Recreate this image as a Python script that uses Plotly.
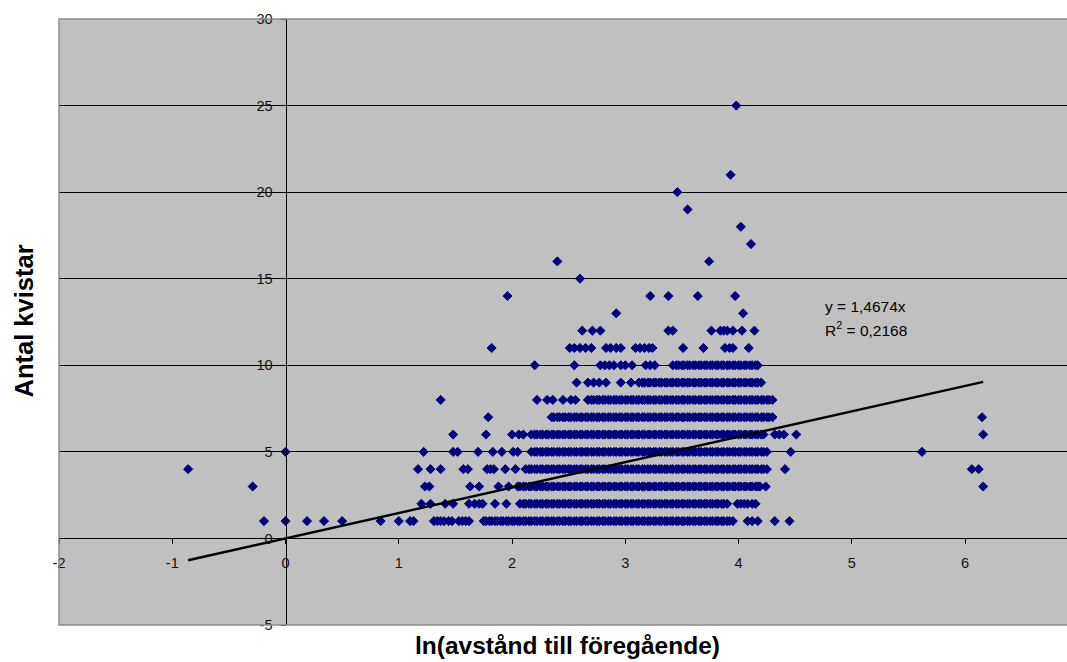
import plotly.graph_objects as go

# ---- data: x = ln(avstånd till föregående) for each observed knot count ----
knots = [1, 2, 3, 4, 5, 6, 7, 8, 9, 10, 11, 12, 13, 14, 15, 16, 17, 18, 19, 20, 21, 25]

x_k1 = [-0.19, 0.00, 0.19, 0.34, 0.50, 0.84, 1.00, 1.10, 1.13, 1.31, 1.34, 1.37, 1.40, 1.44, 1.47,
        1.53, 1.56, 1.59, 1.62, 1.75, 1.77,
        1.80, 1.82, 1.85, 1.87, 1.90, 1.92, 1.95, 1.97, 2.00, 2.02, 2.05, 2.07, 2.10, 2.12, 2.15, 2.17,
        2.20, 2.22, 2.25, 2.27, 2.30, 2.32, 2.35, 2.37, 2.40, 2.42, 2.45, 2.47, 2.50, 2.52, 2.55, 2.57,
        2.60, 2.62, 2.65, 2.67, 2.70, 2.72, 2.75, 2.77, 2.80, 2.82, 2.85, 2.87, 2.90, 2.92, 2.95, 2.97,
        3.00, 3.02, 3.05, 3.07, 3.10, 3.12, 3.15, 3.17, 3.20, 3.22, 3.25, 3.27, 3.30, 3.32, 3.35, 3.37,
        3.40, 3.42, 3.45, 3.47, 3.50, 3.52, 3.55, 3.57, 3.60, 3.62, 3.65, 3.67, 3.70, 3.72, 3.75, 3.77,
        3.80, 3.82, 3.85, 3.87, 3.90, 3.92, 3.95, 4.08, 4.12, 4.17, 4.32, 4.45]
x_k2 = [1.20, 1.28, 1.41, 1.48, 1.62, 1.67, 1.71, 1.74, 1.85, 1.95, 2.07,
        2.10, 2.12, 2.15, 2.17, 2.20, 2.22, 2.25, 2.27, 2.30, 2.32, 2.35, 2.37, 2.40, 2.42, 2.45, 2.47,
        2.50, 2.52, 2.55, 2.57, 2.60, 2.62, 2.65, 2.67, 2.70, 2.72, 2.75, 2.77, 2.80, 2.82, 2.85, 2.87,
        2.90, 2.92, 2.95, 2.97, 3.00, 3.02, 3.05, 3.07, 3.10, 3.12, 3.15, 3.17, 3.20, 3.22, 3.25, 3.27,
        3.30, 3.32, 3.35, 3.37, 3.40, 3.42, 3.45, 3.47, 3.50, 3.52, 3.55, 3.57, 3.60, 3.62, 3.65, 3.67,
        3.70, 3.72, 3.75, 3.77, 3.80, 3.82, 3.85, 3.87, 3.90, 3.99, 4.02, 4.05, 4.08, 4.12, 4.15]
x_k3 = [-0.29, 1.23, 1.27, 1.63, 1.71, 1.88, 1.97, 2.05, 2.07,
        2.10, 2.12, 2.15, 2.17, 2.20, 2.22, 2.25, 2.27, 2.30, 2.32, 2.35, 2.37, 2.40, 2.42, 2.45, 2.47,
        2.50, 2.52, 2.55, 2.57, 2.60, 2.62, 2.65, 2.67, 2.70, 2.72, 2.75, 2.77, 2.80, 2.82, 2.85, 2.87,
        2.90, 2.92, 2.95, 2.97, 3.00, 3.02, 3.05, 3.07, 3.10, 3.12, 3.15, 3.17, 3.20, 3.22, 3.25, 3.27,
        3.30, 3.32, 3.35, 3.37, 3.40, 3.42, 3.45, 3.47, 3.50, 3.52, 3.55, 3.57, 3.60, 3.62, 3.65, 3.67,
        3.70, 3.72, 3.75, 3.77, 3.80, 3.82, 3.85, 3.87, 3.90, 3.92, 3.95, 3.97, 4.00, 4.02, 4.05, 4.07,
        4.10, 4.12, 4.15, 4.17, 4.19, 4.24, 6.16]
x_k4 = [-0.86, 1.17, 1.28, 1.37, 1.57, 1.61, 1.78, 1.81, 1.84, 1.94, 2.03, 2.12, 2.15, 2.17,
        2.20, 2.22, 2.25, 2.27, 2.30, 2.32, 2.35, 2.37, 2.40, 2.42, 2.45, 2.47,
        2.50, 2.52, 2.55, 2.57, 2.60, 2.62, 2.65, 2.67, 2.70, 2.72, 2.75, 2.77, 2.80, 2.82, 2.85, 2.87,
        2.90, 2.92, 2.95, 2.97, 3.00, 3.02, 3.05, 3.07, 3.10, 3.12, 3.15, 3.17, 3.20, 3.22, 3.25, 3.27,
        3.30, 3.32, 3.35, 3.37, 3.40, 3.42, 3.45, 3.47, 3.50, 3.52, 3.55, 3.57, 3.60, 3.62, 3.65, 3.67,
        3.70, 3.72, 3.75, 3.77, 3.80, 3.82, 3.85, 3.87, 3.90, 3.92, 3.95, 3.97, 4.00, 4.02, 4.05, 4.07,
        4.10, 4.12, 4.15, 4.17, 4.20, 4.22, 4.25, 4.41, 6.06, 6.12]
x_k5 = [0.00, 1.22, 1.48, 1.52, 1.70, 1.83, 1.91, 2.01, 2.05, 2.17,
        2.20, 2.22, 2.25, 2.27, 2.30, 2.32, 2.35, 2.37, 2.40, 2.42, 2.45, 2.47,
        2.50, 2.52, 2.55, 2.57, 2.60, 2.62, 2.65, 2.67, 2.70, 2.72, 2.75, 2.77, 2.80, 2.82, 2.85, 2.87,
        2.90, 2.92, 2.95, 2.97, 3.00, 3.02, 3.05, 3.07, 3.10, 3.12, 3.15, 3.17, 3.20, 3.22, 3.25, 3.27,
        3.30, 3.32, 3.35, 3.37, 3.40, 3.42, 3.45, 3.47, 3.50, 3.52, 3.55, 3.57, 3.60, 3.62, 3.65, 3.67,
        3.70, 3.72, 3.75, 3.77, 3.80, 3.82, 3.85, 3.87, 3.90, 3.92, 3.95, 3.97, 4.00, 4.02, 4.05, 4.07,
        4.10, 4.12, 4.15, 4.17, 4.20, 4.22, 4.25, 4.46, 5.62]
x_k6 = [1.48, 1.77, 2.00, 2.06, 2.10, 2.17,
        2.20, 2.22, 2.25, 2.27, 2.30, 2.32, 2.35, 2.37, 2.40, 2.42, 2.45, 2.47,
        2.50, 2.52, 2.55, 2.57, 2.60, 2.62, 2.65, 2.67, 2.70, 2.72, 2.75, 2.77, 2.80, 2.82, 2.85, 2.87,
        2.90, 2.92, 2.95, 2.97, 3.00, 3.02, 3.05, 3.07, 3.10, 3.12, 3.15, 3.17, 3.20, 3.22, 3.25, 3.27,
        3.30, 3.32, 3.35, 3.37, 3.40, 3.42, 3.45, 3.47, 3.50, 3.52, 3.55, 3.57, 3.60, 3.62, 3.65, 3.67,
        3.70, 3.72, 3.75, 3.77, 3.80, 3.82, 3.85, 3.87, 3.90, 3.92, 3.95, 3.97, 4.00, 4.02, 4.05, 4.07,
        4.10, 4.12, 4.15, 4.17, 4.20, 4.22, 4.32, 4.36, 4.40, 4.51, 6.16]
x_k7 = [1.79, 2.35, 2.37, 2.40, 2.42, 2.45, 2.47,
        2.50, 2.52, 2.55, 2.57, 2.60, 2.62, 2.65, 2.67, 2.70, 2.72, 2.75, 2.77, 2.80, 2.82, 2.85, 2.87,
        2.90, 2.92, 2.95, 2.97, 3.00, 3.02, 3.05, 3.07, 3.10, 3.12, 3.15, 3.17, 3.20, 3.22, 3.25, 3.27,
        3.30, 3.32, 3.35, 3.37, 3.40, 3.42, 3.45, 3.47, 3.50, 3.52, 3.55, 3.57, 3.60, 3.62, 3.65, 3.67,
        3.70, 3.72, 3.75, 3.77, 3.80, 3.82, 3.85, 3.87, 3.90, 3.92, 3.95, 3.97, 4.00, 4.02, 4.05, 4.07,
        4.10, 4.12, 4.15, 4.17, 4.20, 4.22, 4.25, 4.27, 4.30, 6.15]
x_k8 = [1.37, 2.22, 2.31, 2.36, 2.45, 2.52, 2.56, 2.67, 2.70, 2.72, 2.75, 2.77, 2.80, 2.82, 2.85, 2.87,
        2.90, 2.92, 2.95, 2.97, 3.00, 3.02, 3.05, 3.07, 3.10, 3.12, 3.15, 3.17, 3.20, 3.22, 3.25, 3.27,
        3.30, 3.32, 3.35, 3.37, 3.40, 3.42, 3.45, 3.47, 3.50, 3.52, 3.55, 3.57, 3.60, 3.62, 3.65, 3.67,
        3.70, 3.72, 3.75, 3.77, 3.80, 3.82, 3.85, 3.87, 3.90, 3.92, 3.95, 3.97, 4.00, 4.02, 4.05, 4.07,
        4.10, 4.12, 4.15, 4.17, 4.20, 4.22, 4.25, 4.27, 4.30]
x_k9 = [2.57, 2.67, 2.72, 2.77, 2.83, 2.96, 3.05, 3.12, 3.15, 3.17, 3.20, 3.22, 3.25, 3.27,
        3.30, 3.32, 3.35, 3.37, 3.40, 3.42, 3.45, 3.47, 3.50, 3.52, 3.55, 3.57, 3.60, 3.62, 3.65, 3.67,
        3.70, 3.72, 3.75, 3.77, 3.80, 3.82, 3.85, 3.87, 3.90, 3.92, 3.95, 3.97, 4.00, 4.02, 4.05, 4.07,
        4.10, 4.12, 4.15, 4.17, 4.20]
x_k10 = [2.20, 2.55, 2.78, 2.82, 2.86, 2.90, 2.96, 3.00, 3.06, 3.18, 3.22, 3.26, 3.42, 3.45, 3.47,
         3.50, 3.52, 3.55, 3.57, 3.60, 3.62, 3.65, 3.67, 3.70, 3.72, 3.75, 3.77, 3.80, 3.82, 3.85, 3.87,
         3.90, 3.92, 3.95, 3.97, 4.00, 4.02, 4.05, 4.07, 4.10, 4.12, 4.15, 4.17]
x_k11 = [1.82, 2.51, 2.55, 2.60, 2.65, 2.70, 2.83, 2.87, 2.92, 2.96, 3.09, 3.13, 3.17, 3.21, 3.24,
         3.51, 3.69, 3.88, 3.92, 3.95, 4.09]
x_k12 = [2.62, 2.71, 2.78, 3.38, 3.42, 3.76, 3.84, 3.87, 3.90, 3.95, 4.03, 4.14]
x_k13 = [2.92, 4.04]
x_k14 = [1.96, 3.22, 3.38, 3.64, 3.97]
x_k15 = [2.60]
x_k16 = [2.40, 3.74]
x_k17 = [4.11]
x_k18 = [4.02]
x_k19 = [3.55]
x_k20 = [3.46]
x_k21 = [3.93]
x_k25 = [3.98]

rows = [x_k1, x_k2, x_k3, x_k4, x_k5, x_k6, x_k7, x_k8, x_k9, x_k10, x_k11, x_k12, x_k13,
        x_k14, x_k15, x_k16, x_k17, x_k18, x_k19, x_k20, x_k21, x_k25]

slope = 1.4674
r2_text = "0,2168"
x_ticks = [-2, -1, 0, 1, 2, 3, 4, 5, 6]
y_ticks = [-5, 0, 5, 10, 15, 20, 25, 30]

xs, ys = [], []
for k, row in zip(knots, rows):
    xs.extend(row)
    ys.extend([k] * len(row))

x_lo, x_hi = min(xs), max(xs)

FONT = "Liberation Sans, Arial, sans-serif"
X_RANGE = [-2, 6.9]
Y_RANGE = [-5, 30]

fig = go.Figure()
fig.add_trace(go.Scatter(
    x=xs, y=ys, mode="markers",
    marker=dict(symbol="diamond", size=7.0, color="#000080", line=dict(width=1, color="#000080")),
    showlegend=False, hoverinfo="x+y"))
fig.add_trace(go.Scatter(
    x=[x_lo, x_hi], y=[slope * x_lo, slope * x_hi], mode="lines",
    line=dict(color="#000000", width=2.4), showlegend=False, hoverinfo="skip"))

fig.update_layout(
    width=1067, height=662,
    margin=dict(l=59, r=0, t=19, b=37),
    paper_bgcolor="#ffffff", plot_bgcolor="#c0c0c0",
    font=dict(family=FONT, color="#000000"),
    xaxis=dict(range=X_RANGE, domain=[0, 1], anchor="free",
               position=(0 - Y_RANGE[0]) / (Y_RANGE[1] - Y_RANGE[0]),
               tickvals=x_ticks, ticktext=[str(v) for v in x_ticks],
               ticks="outside", ticklen=5, tickcolor="#000", ticklabelstandoff=6,
               tickfont=dict(size=14.5, family=FONT, color="#111"),
               showgrid=False, zeroline=False, showline=True, linecolor="#000", linewidth=1),
    yaxis=dict(range=Y_RANGE, domain=[0, 1], anchor="free",
               position=(0 - X_RANGE[0]) / (X_RANGE[1] - X_RANGE[0]),
               tickvals=y_ticks, ticktext=[str(v) for v in y_ticks],
               ticks="outside", ticklen=5, tickcolor="#000", ticklabelstandoff=5,
               tickfont=dict(size=14.5, family=FONT, color="#111"),
               showgrid=True, gridcolor="#000000", gridwidth=1,
               zeroline=False, showline=True, linecolor="#000", linewidth=1),
    shapes=[dict(type="rect", xref="paper", yref="paper", x0=0, x1=1.02, y0=0, y1=1,
                 line=dict(color="#8c8c8c", width=1.5), layer="above")],
    annotations=[
        dict(text="<b>ln(avstånd till föregående)</b>", xref="paper", yref="paper",
             x=0.5045, y=-0.034, xanchor="center", yanchor="middle", showarrow=False,
             font=dict(size=24.5, family=FONT, color="#000")),
        dict(text="<b>Antal kvistar</b>", xref="paper", yref="paper",
             x=-0.035, y=0.502, xanchor="center", yanchor="middle", showarrow=False,
             textangle=-90, font=dict(size=25.5, family=FONT, color="#000")),
        dict(text=f"y = {str(slope).replace('.', ',')}x", xref="x", yref="y",
             x=4.75, y=13.4, xanchor="left", yanchor="middle", showarrow=False,
             font=dict(size=15.5, family=FONT, color="#000")),
        dict(text=f"R<sup>2</sup> = {r2_text}", xref="x", yref="y",
             x=4.75, y=12.1, xanchor="left", yanchor="middle", showarrow=False,
             font=dict(size=15.5, family=FONT, color="#000")),
    ],
)

fig.write_html("out.html",
               config={"displayModeBar": False},
               post_script="document.body.style.margin='0px';"
                           "document.body.style.overflow='hidden';")
